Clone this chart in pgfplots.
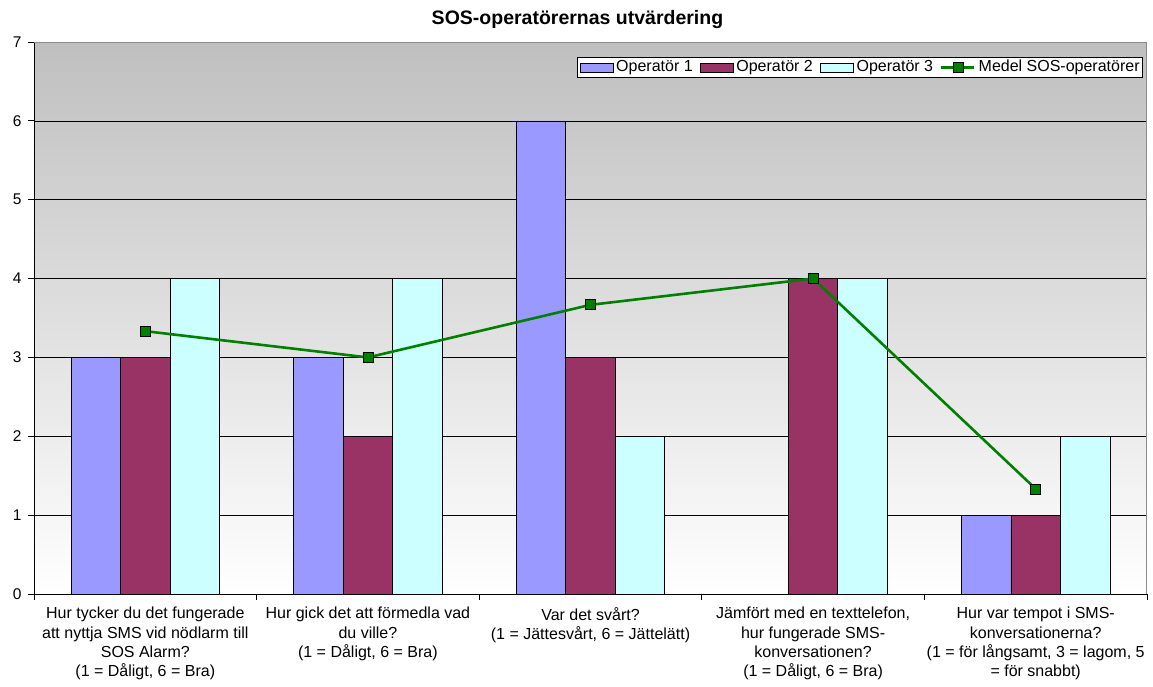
\documentclass[border=0pt]{standalone}
\usepackage{pgfplots}
\pgfplotsset{compat=1.18}
\usepackage{pgfplotstable}
\usepackage{fontspec}
\setmainfont{Liberation Sans}

\definecolor{opA}{HTML}{9999FF}
\definecolor{opB}{HTML}{993366}
\definecolor{opC}{HTML}{CCFFFF}
\definecolor{medel}{HTML}{008000}
\definecolor{frame}{HTML}{8C8C8C}

% one row per question (0..4); nan = no answer
\pgfplotstableread{
q  op1  op2  op3  medel
0  3    3    4    3.333
1  3    2    4    3
2  6    3    2    3.667
3  nan  4    4    4
4  1    1    2    1.333
}\svar

\pgfplotsset{
  barlegend/.style={legend image code/.code={
    \draw[##1,line width=0.7pt] (0pt,-4.5pt) rectangle (33pt,4.5pt);}},
  linelegend/.style={legend image code/.code={
    \draw[##1, mark=none] (0pt,0pt) -- (33pt,0pt);
    \draw[##1, only marks] plot coordinates {(16.5pt,0pt)};}},
}

\begin{document}
\fontsize{16}{19.3}\selectfont
\begin{tikzpicture}
\useasboundingbox (-34pt,-92pt) rectangle (1119pt,594pt);
\begin{axis}[
  at={(0pt,0pt)}, anchor=south west,
  scale only axis, width=1113pt, height=552pt,
  xmin=-0.5, xmax=4.5, ymin=0, ymax=7,
  axis x line*=bottom, axis y line*=left,
  axis line style={-, black, line width=0.9pt},
  axis background/.style={top color=black!25, bottom color=white},
  ytick={0,...,7},
  ymajorgrids, major grid style={black, line width=0.6pt},
  tick align=outside, major tick length=6pt, minor tick length=6pt,
  tick style={black, line width=0.8pt},
  xtick={0,...,4},
  major x tick style={draw=none},
  minor xtick={-0.5,0.5,...,4.5},
  xticklabels={
    {Hur tycker du det fungerade\\att nyttja SMS vid nödlarm till\\SOS Alarm?\\(1 = Dåligt, 6 = Bra)},
    {Hur gick det att förmedla vad\\du ville?\\(1 = Dåligt, 6 = Bra)},
    {Var det svårt?\\(1 = Jättesvårt, 6 = Jättelätt)},
    {Jämfört med en texttelefon,\\hur fungerade SMS-\\konversationen?\\(1 = Dåligt, 6 = Bra)},
    {Hur var tempot i SMS-\\konversationerna?\\(1 = för långsamt, 3 = lagom, 5\\= för snabbt)}},
  x tick label style={align=center, anchor=north, inner sep=0pt,
    font=\fontsize{16}{19.3}\selectfont, yshift=-7pt},
  y tick label style={font=\fontsize{15.5}{17}\selectfont, xshift=-1pt},
  /pgf/number format/assume math mode=true,
  title={SOS-operatörernas utvärdering},
  title style={font=\fontsize{19.5}{22}\selectfont\bfseries, yshift=2pt, xshift=-13pt},
  legend columns=4,
  legend style={at={(1,1)}, anchor=north east, xshift=-4pt, yshift=-15pt,
    draw=black, fill=white, line width=0.7pt,
    font=\fontsize{16}{17}\selectfont, inner sep=2pt,
    nodes={inner sep=1pt},
    /tikz/every odd column/.append style={column sep=2pt},
    /tikz/every even column/.append style={column sep=6pt}},
  unbounded coords=jump,
]
\addplot[ybar, bar width=0.2223, bar shift=0pt, fill=opA, draw=black, line width=0.7pt, barlegend]
  table[x expr=\thisrow{q}-0.2223, y=op1] {\svar};
\addplot[ybar, bar width=0.2223, bar shift=0pt, fill=opB, draw=black, line width=0.7pt, barlegend]
  table[x=q, y=op2] {\svar};
\addplot[ybar, bar width=0.2223, bar shift=0pt, fill=opC, draw=black, line width=0.7pt, barlegend]
  table[x expr=\thisrow{q}+0.2223, y=op3] {\svar};
\addplot[medel, line width=2.6pt, mark=square*, mark size=5pt,
  mark options={fill=medel, draw=black, line width=0.7pt}, linelegend]
  table[x=q, y=medel] {\svar};
\legend{Operatör 1, Operatör 2, Operatör 3, Medel SOS-operatörer}
\draw[frame, line width=1.2pt] (rel axis cs:0,1) -- (rel axis cs:1,1) -- (rel axis cs:1,0);
\end{axis}
\end{tikzpicture}
\end{document}
